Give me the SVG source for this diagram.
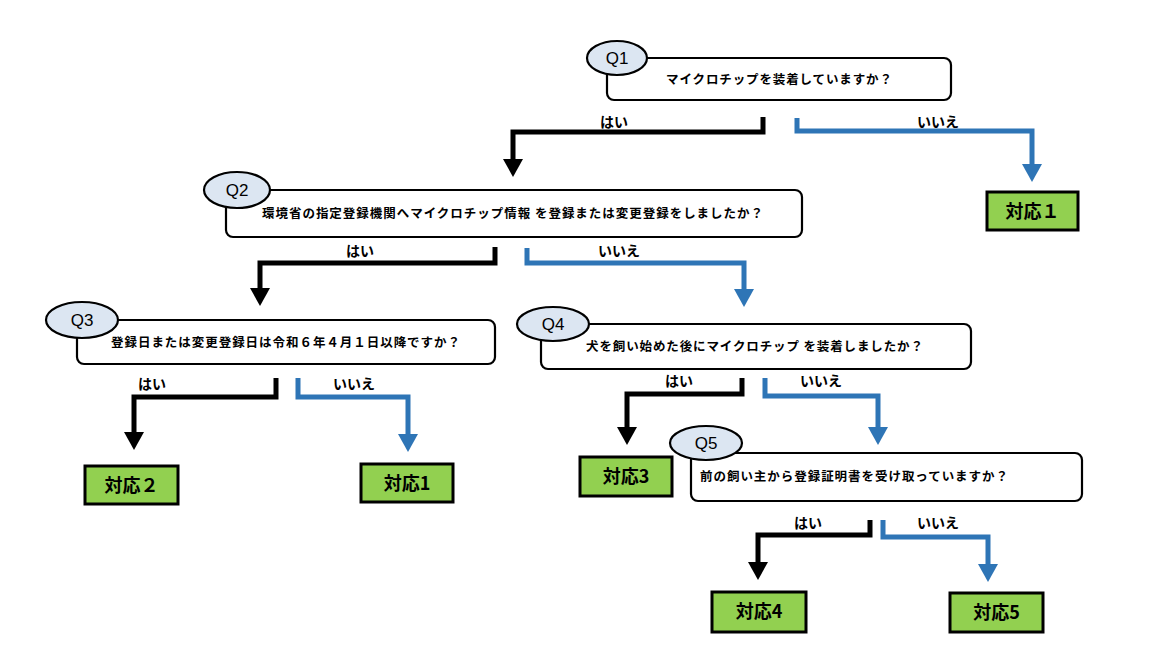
<svg xmlns="http://www.w3.org/2000/svg" width="1163" height="665" viewBox="0 0 1163 665">
<defs>
<style>
.qbox{fill:#fff;stroke:#000;stroke-width:2.2}
.qell{fill:#DCE6F2;stroke:#000;stroke-width:2.2}
.qlab{font-family:"Liberation Sans",Arial,sans-serif;font-size:17px;fill:#000}
.qtxt{font-family:"Noto Sans CJK JP","Noto Sans CJK SC",sans-serif;font-size:12.5px;font-weight:bold;fill:#000}
.yn{font-family:"Noto Sans CJK JP","Noto Sans CJK SC",sans-serif;font-size:14px;font-weight:bold;fill:#000}
.abox{fill:#92D050;stroke:#000;stroke-width:3}
.atxt{font-family:"Noto Sans CJK JP","Noto Sans CJK SC",sans-serif;font-size:18px;font-weight:bold;fill:#000}
.yes{fill:none;stroke:#000;stroke-width:5;stroke-linejoin:miter;marker-end:url(#ahB)}
.no{fill:none;stroke:#2E75B6;stroke-width:5;stroke-linejoin:miter;marker-end:url(#ahN)}
</style>
<marker id="ahB" markerUnits="userSpaceOnUse" viewBox="0 0 18 20" markerWidth="18" markerHeight="20" refX="1" refY="10" orient="auto">
<path d="M0,0 L18,10 L0,20 z" fill="#000"/>
</marker>
<marker id="ahN" markerUnits="userSpaceOnUse" viewBox="0 0 18 20" markerWidth="18" markerHeight="20" refX="1" refY="10" orient="auto">
<path d="M0,0 L18,10 L0,20 z" fill="#2E75B6"/>
</marker>
</defs>
<rect width="1163" height="665" fill="#fff"/>

<g id="connectors">
<polyline class="yes" points="763,117 763,132 513,132 513,160"/>
<polyline class="no" points="797,118 797,131 1032,131 1032,165"/>
<polyline class="yes" points="495,247 495,263 260,263 260,289"/>
<polyline class="no" points="527,248 527,263 744,263 744,290"/>
<polyline class="yes" points="276,378 276,397 134,397 134,433"/>
<polyline class="no" points="298,378 298,397 408,397 408,435"/>
<polyline class="yes" points="742,378 742,394 627,394 627,428"/>
<polyline class="no" points="765,378 765,396 878,396 878,428"/>
<polyline class="yes" points="870,520 870,535 758,535 758,563"/>
<polyline class="no" points="883,520 883,537 988,537 988,565"/>
<text class="yn" x="614" y="127" text-anchor="middle">はい</text>
<text class="yn" x="938" y="127" text-anchor="middle">いいえ</text>
<text class="yn" x="360" y="256" text-anchor="middle">はい</text>
<text class="yn" x="619" y="256" text-anchor="middle">いいえ</text>
<text class="yn" x="152" y="389" text-anchor="middle">はい</text>
<text class="yn" x="354" y="389" text-anchor="middle">いいえ</text>
<text class="yn" x="679" y="386" text-anchor="middle">はい</text>
<text class="yn" x="821" y="386" text-anchor="middle">いいえ</text>
<text class="yn" x="808" y="528" text-anchor="middle">はい</text>
<text class="yn" x="938" y="528" text-anchor="middle">いいえ</text>
</g>

<g id="Q1">
<rect class="qbox" x="607" y="58" width="344" height="42" rx="7"/>
<ellipse class="qell" cx="617" cy="58" rx="30" ry="17"/>
<text class="qlab" x="617" y="64" text-anchor="middle">Q1</text>
<text class="qtxt" x="666" y="84" textLength="226" lengthAdjust="spacing">マイクロチップを装着していますか？</text>
</g>

<g id="Q2">
<rect class="qbox" x="226" y="190" width="576" height="47" rx="7"/>
<ellipse class="qell" cx="237" cy="190" rx="33" ry="18"/>
<text class="qlab" x="237" y="196" text-anchor="middle">Q2</text>
<text class="qtxt" x="262" y="218" textLength="501" lengthAdjust="spacing">環境省の指定登録機関へマイクロチップ情報 を登録または変更登録をしましたか？</text>
</g>

<g id="Q3">
<rect class="qbox" x="77" y="320" width="418" height="44" rx="7"/>
<ellipse class="qell" cx="82" cy="320" rx="36" ry="18"/>
<text class="qlab" x="82" y="326" text-anchor="middle">Q3</text>
<text class="qtxt" x="111" y="347" textLength="349" lengthAdjust="spacing">登録日または変更登録日は令和６年４月１日以降ですか？</text>
</g>

<g id="Q4">
<rect class="qbox" x="541" y="324" width="430" height="45" rx="7"/>
<ellipse class="qell" cx="553" cy="324" rx="36" ry="17"/>
<text class="qlab" x="553" y="330" text-anchor="middle">Q4</text>
<text class="qtxt" x="586" y="351" textLength="337" lengthAdjust="spacing">犬を飼い始めた後にマイクロチップ を装着しましたか？</text>
</g>

<g id="Q5">
<rect class="qbox" x="691" y="453" width="391" height="48" rx="7"/>
<ellipse class="qell" cx="706" cy="443" rx="36" ry="17"/>
<text class="qlab" x="706" y="449" text-anchor="middle">Q5</text>
<text class="qtxt" x="700" y="481" textLength="308" lengthAdjust="spacing">前の飼い主から登録証明書を受け取っていますか？</text>
</g>

<g id="A1a">
<rect class="abox" x="987" y="192" width="91" height="38"/>
<text class="atxt" x="1032.5" y="218" text-anchor="middle">対応１</text>
</g>
<g id="A2">
<rect class="abox" x="85" y="466" width="93" height="38"/>
<text class="atxt" x="131.5" y="492" text-anchor="middle">対応２</text>
</g>
<g id="A1b">
<rect class="abox" x="361" y="464" width="92" height="38"/>
<text class="atxt" x="407" y="490" text-anchor="middle">対応1</text>
</g>
<g id="A3">
<rect class="abox" x="580" y="457" width="92" height="39"/>
<text class="atxt" x="626" y="483" text-anchor="middle">対応3</text>
</g>
<g id="A4">
<rect class="abox" x="712" y="592" width="94" height="40"/>
<text class="atxt" x="759" y="618" text-anchor="middle">対応4</text>
</g>
<g id="A5">
<rect class="abox" x="950" y="593" width="93" height="39"/>
<text class="atxt" x="996.5" y="619" text-anchor="middle">対応5</text>
</g>
</svg>
